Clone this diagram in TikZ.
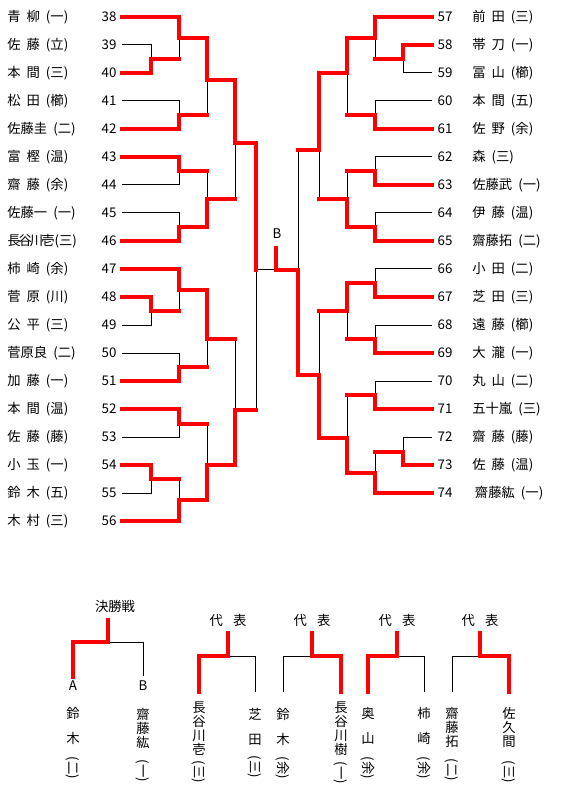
\documentclass[tikz,border=0pt]{standalone}
\usepackage{fontspec}
\setmainfont{Noto Sans CJK JP}
\usetikzlibrary{positioning}
\definecolor{winred}{RGB}{255,0,0}
\newcommand{\hgap}{\hspace{4.5pt}}

\begin{document}
\begin{tikzpicture}[
    x=0.75pt, y=0.75pt,
    font=\fontsize{10}{10.5}\selectfont,
    win/.style={draw=winred, line width=3.3pt, line cap=rect},
    lose/.style={draw=black, line width=0.75pt},
    pname/.style={anchor=west, inner sep=0pt},
    lnum/.style={anchor=east, inner xsep=4pt, inner ysep=0pt},
    rnum/.style={anchor=west, inner xsep=4pt, inner ysep=0pt},
    vname/.style={anchor=north, align=center, inner sep=0pt},
    vpar/.style={rotate=-90, inner sep=0pt}
  ]
  \useasboundingbox (0,0) rectangle (566,-798);

  % players
  \foreach \name [count=\i from 38] in {青\hgap 柳\hgap (一), 佐\hgap 藤\hgap (立), 本\hgap 間\hgap (三), 松\hgap 田\hgap (櫛), 佐藤圭\hgap (二), 富\hgap 樫\hgap (温), 齋\hgap 藤\hgap (余), 佐藤一\hgap (一), 長\kern-1.5pt 谷\kern-1.5pt 川\kern-1.5pt 壱(三), 柿\hgap 崎\hgap (余), 菅\hgap 原\hgap (川), 公\hgap 平\hgap (三), 菅原良\hgap (二), 加\hgap 藤\hgap (一), 本\hgap 間\hgap (温), 佐\hgap 藤\hgap (藤), 小\hgap 玉\hgap (一), 鈴\hgap 木\hgap (五), 木\hgap 村\hgap (三)} {
    \node[pname] (n\i) at (7,{-17-28*(\i-38)}) {\name};
    \node[lnum] (p\i) at (122,{-17-28*(\i-38)}) {\i};
  }
  \foreach \name [count=\i from 57] in {前\hgap 田\hgap (三), 帯\hgap 刀\hgap (一), 冨\hgap 山\hgap (櫛), 本\hgap 間\hgap (五), 佐\hgap 野\hgap (余), 森\hgap (三), 佐藤武\hgap (一), 伊\hgap 藤\hgap (温), 齋藤拓\hgap (二), 小\hgap 田\hgap (二), 芝\hgap 田\hgap (三), 遠\hgap 藤\hgap (櫛), 大\hgap 瀧\hgap (一), 丸\hgap 山\hgap (二), 五十嵐\hgap (三), 齋\hgap 藤\hgap (藤), 佐\hgap 藤\hgap (温), \kern2pt 齋藤紘\hgap (一)} {
    \node[rnum] (p\i) at (432,{-17-28*(\i-57)}) {\i};
    \node[pname] (n\i) at (472,{-17-28*(\i-57)}) {\name};
  }

  % match points, left block
  \coordinate (L39) at (151,-59);
  \coordinate (L38) at (179,-38);
  \coordinate (L41) at (179,-115);
  \coordinate (L2a) at (207,-80);
  \coordinate (L43) at (179,-171);
  \coordinate (L45) at (179,-227);
  \coordinate (L2b) at (207,-199);
  \coordinate (L3a) at (235,-143);
  \coordinate (L48) at (151,-311);
  \coordinate (L47) at (179,-290);
  \coordinate (L50) at (179,-367);
  \coordinate (L2c) at (207,-339);
  \coordinate (L52) at (179,-424);
  \coordinate (L54) at (151,-479);
  \coordinate (L56) at (179,-500);
  \coordinate (L2d) at (207,-465);
  \coordinate (L3b) at (235,-410);
  \coordinate (L4) at (256,-270);
  % match points, right block
  \coordinate (R58) at (403,-59);
  \coordinate (R57) at (375,-38);
  \coordinate (R60) at (375,-115);
  \coordinate (R2a) at (347,-73);
  \coordinate (R62) at (375,-171);
  \coordinate (R64) at (375,-227);
  \coordinate (R2b) at (347,-199);
  \coordinate (R3a) at (319,-150);
  \coordinate (R66) at (375,-283);
  \coordinate (R68) at (375,-339);
  \coordinate (R2c) at (347,-311);
  \coordinate (R70) at (375,-395);
  \coordinate (R72) at (403,-452);
  \coordinate (R74) at (375,-473);
  \coordinate (R2d) at (347,-438);
  \coordinate (R3b) at (319,-375);
  \coordinate (R4) at (298,-270);
  % final
  \coordinate (F) at (276,-270);
  \coordinate (Ftop) at (276,-248);
  \node (bB) at (277,-234) {B};

  % lost lines
  \foreach \a/\b in {p39.east/L39, p41.east/L41, p44.east/L43, p45.east/L45, p49.east/L48, p50.east/L50, p53.east/L52, p55.east/L54, p59.west/R58, p60.west/R60, p62.west/R62, p64.west/R64, p66.west/R66, p68.west/R68, p70.west/R70, p72.west/R72}
    \draw[lose] (\a) -| (\b);
  \foreach \a/\b in {L39/L38, L41/L2a, L43/L2b, L2b/L3a, L48/L47, L50/L2c, L52/L2d, L54/L56, L2c/L3b, L3b/L4, R58/R57, R60/R2a, R62/R2b, R2b/R3a, R68/R2c, R70/R2d, R72/R74, R2c/R3b, R3a/R4}
    \draw[lose] (\a -| \b) -- (\b);
  \draw[lose] (L4) -- (F);

  % won lines
  \foreach \a/\b in {p38.east/L38, p40.east/L39, p42.east/L41, p43.east/L43, p46.east/L45, p47.east/L47, p48.east/L48, p51.east/L50, p52.east/L52, p54.east/L54, p56.east/L56, p57.west/R57, p58.west/R58, p61.west/R60, p63.west/R62, p65.west/R64, p67.west/R66, p69.west/R68, p71.west/R70, p73.west/R72, p74.west/R74}
    \draw[win] (\a) -| (\b);
  \foreach \a/\b in {L38/L2a, L45/L2b, L2a/L3a, L47/L2c, L56/L2d, L2d/L3b, L3a/L4, R57/R2a, R64/R2b, R2a/R3a, R66/R2c, R74/R2d, R2d/R3b, R3b/R4}
    \draw[win] (\a) -| (\b);
  \foreach \a/\b in {L39/L38, L41/L2a, L43/L2b, L2b/L3a, L48/L47, L50/L2c, L52/L2d, L54/L56, L2c/L3b, L3b/L4, R58/R57, R60/R2a, R62/R2b, R2b/R3a, R68/R2c, R70/R2d, R72/R74, R2c/R3b, R3a/R4}
    \draw[win] (\a) -- (\a -| \b);
  \draw[win] (R4) -- (F) -- (Ftop);

  % 決勝戦
  \node (fin) at (115,-606) {決勝戦};
  \node (tA) at (73,-686) {A};
  \node (tB) at (143,-686) {B};
  \coordinate (f0) at (108,-620);
  \coordinate (fj) at (108,-642);
  \draw[lose] (fj) -| (tB.north);
  \draw[win] (f0) -- (fj) -| (tA.north);
  \node[vname] (wa) at (73,-707) {鈴\\[8.25pt]木};
  \node[vpar] (qa) at (73,-768) {(二)};
  \node[vname] (wb) at (143,-708) {齋\\藤\\紘};
  \node[vpar] (qb) at (143,-771) {(一)};

  % 代表
  \foreach \k/\x in {1/228, 2/312, 3/397, 4/480} {
    \node (d\k) at (\x,-620) {代\hspace{7.5pt}表};
    \coordinate (t\k) at (\x,-633);
    \coordinate (j\k) at (\x,-656);
  }
  \foreach \x [count=\k] in {199,255,283,341,368,424,452,509}
    \coordinate (e\k) at (\x,-692);
  \draw[lose] (j1) -| (e2);
  \draw[lose] (j2) -| (e3);
  \draw[lose] (j3) -| (e6);
  \draw[lose] (j4) -| (e7);
  \draw[win] (t1) -- (j1) -| (e1);
  \draw[win] (t2) -- (j2) -| (e4);
  \draw[win] (t3) -- (j3) -| (e5);
  \draw[win] (t4) -- (j4) -| (e8);

  \node[vname] (w1) at (199,-702) {長\\谷\\川\\壱};
  \node[vpar] (q1) at (199,-772) {(三)};
  \node[vname] (w2) at (255,-708) {芝\\[8.25pt]田};
  \node[vpar] (q2) at (255,-767) {(三)};
  \node[vname] (w3) at (283,-708) {鈴\\[8.25pt]木};
  \node[vpar] (q3) at (283,-768) {(余)};
  \node[vname] (w4) at (341,-702) {長\\谷\\川\\樹};
  \node[vpar] (q4) at (341,-773) {(一)};
  \node[vname] (w5) at (368,-707) {奥\\[8.25pt]山};
  \node[vpar] (q5) at (368,-768) {(余)};
  \node[vname] (w6) at (424,-707) {柿\\[8.25pt]崎};
  \node[vpar] (q6) at (424,-768) {(余)};
  \node[vname] (w7) at (452,-707) {齋\\藤\\拓};
  \node[vpar] (q7) at (452,-770) {(二)};
  \node[vname] (w8) at (509,-707) {佐\\久\\間};
  \node[vpar] (q8) at (509,-772) {(三)};
\end{tikzpicture}
\end{document}
